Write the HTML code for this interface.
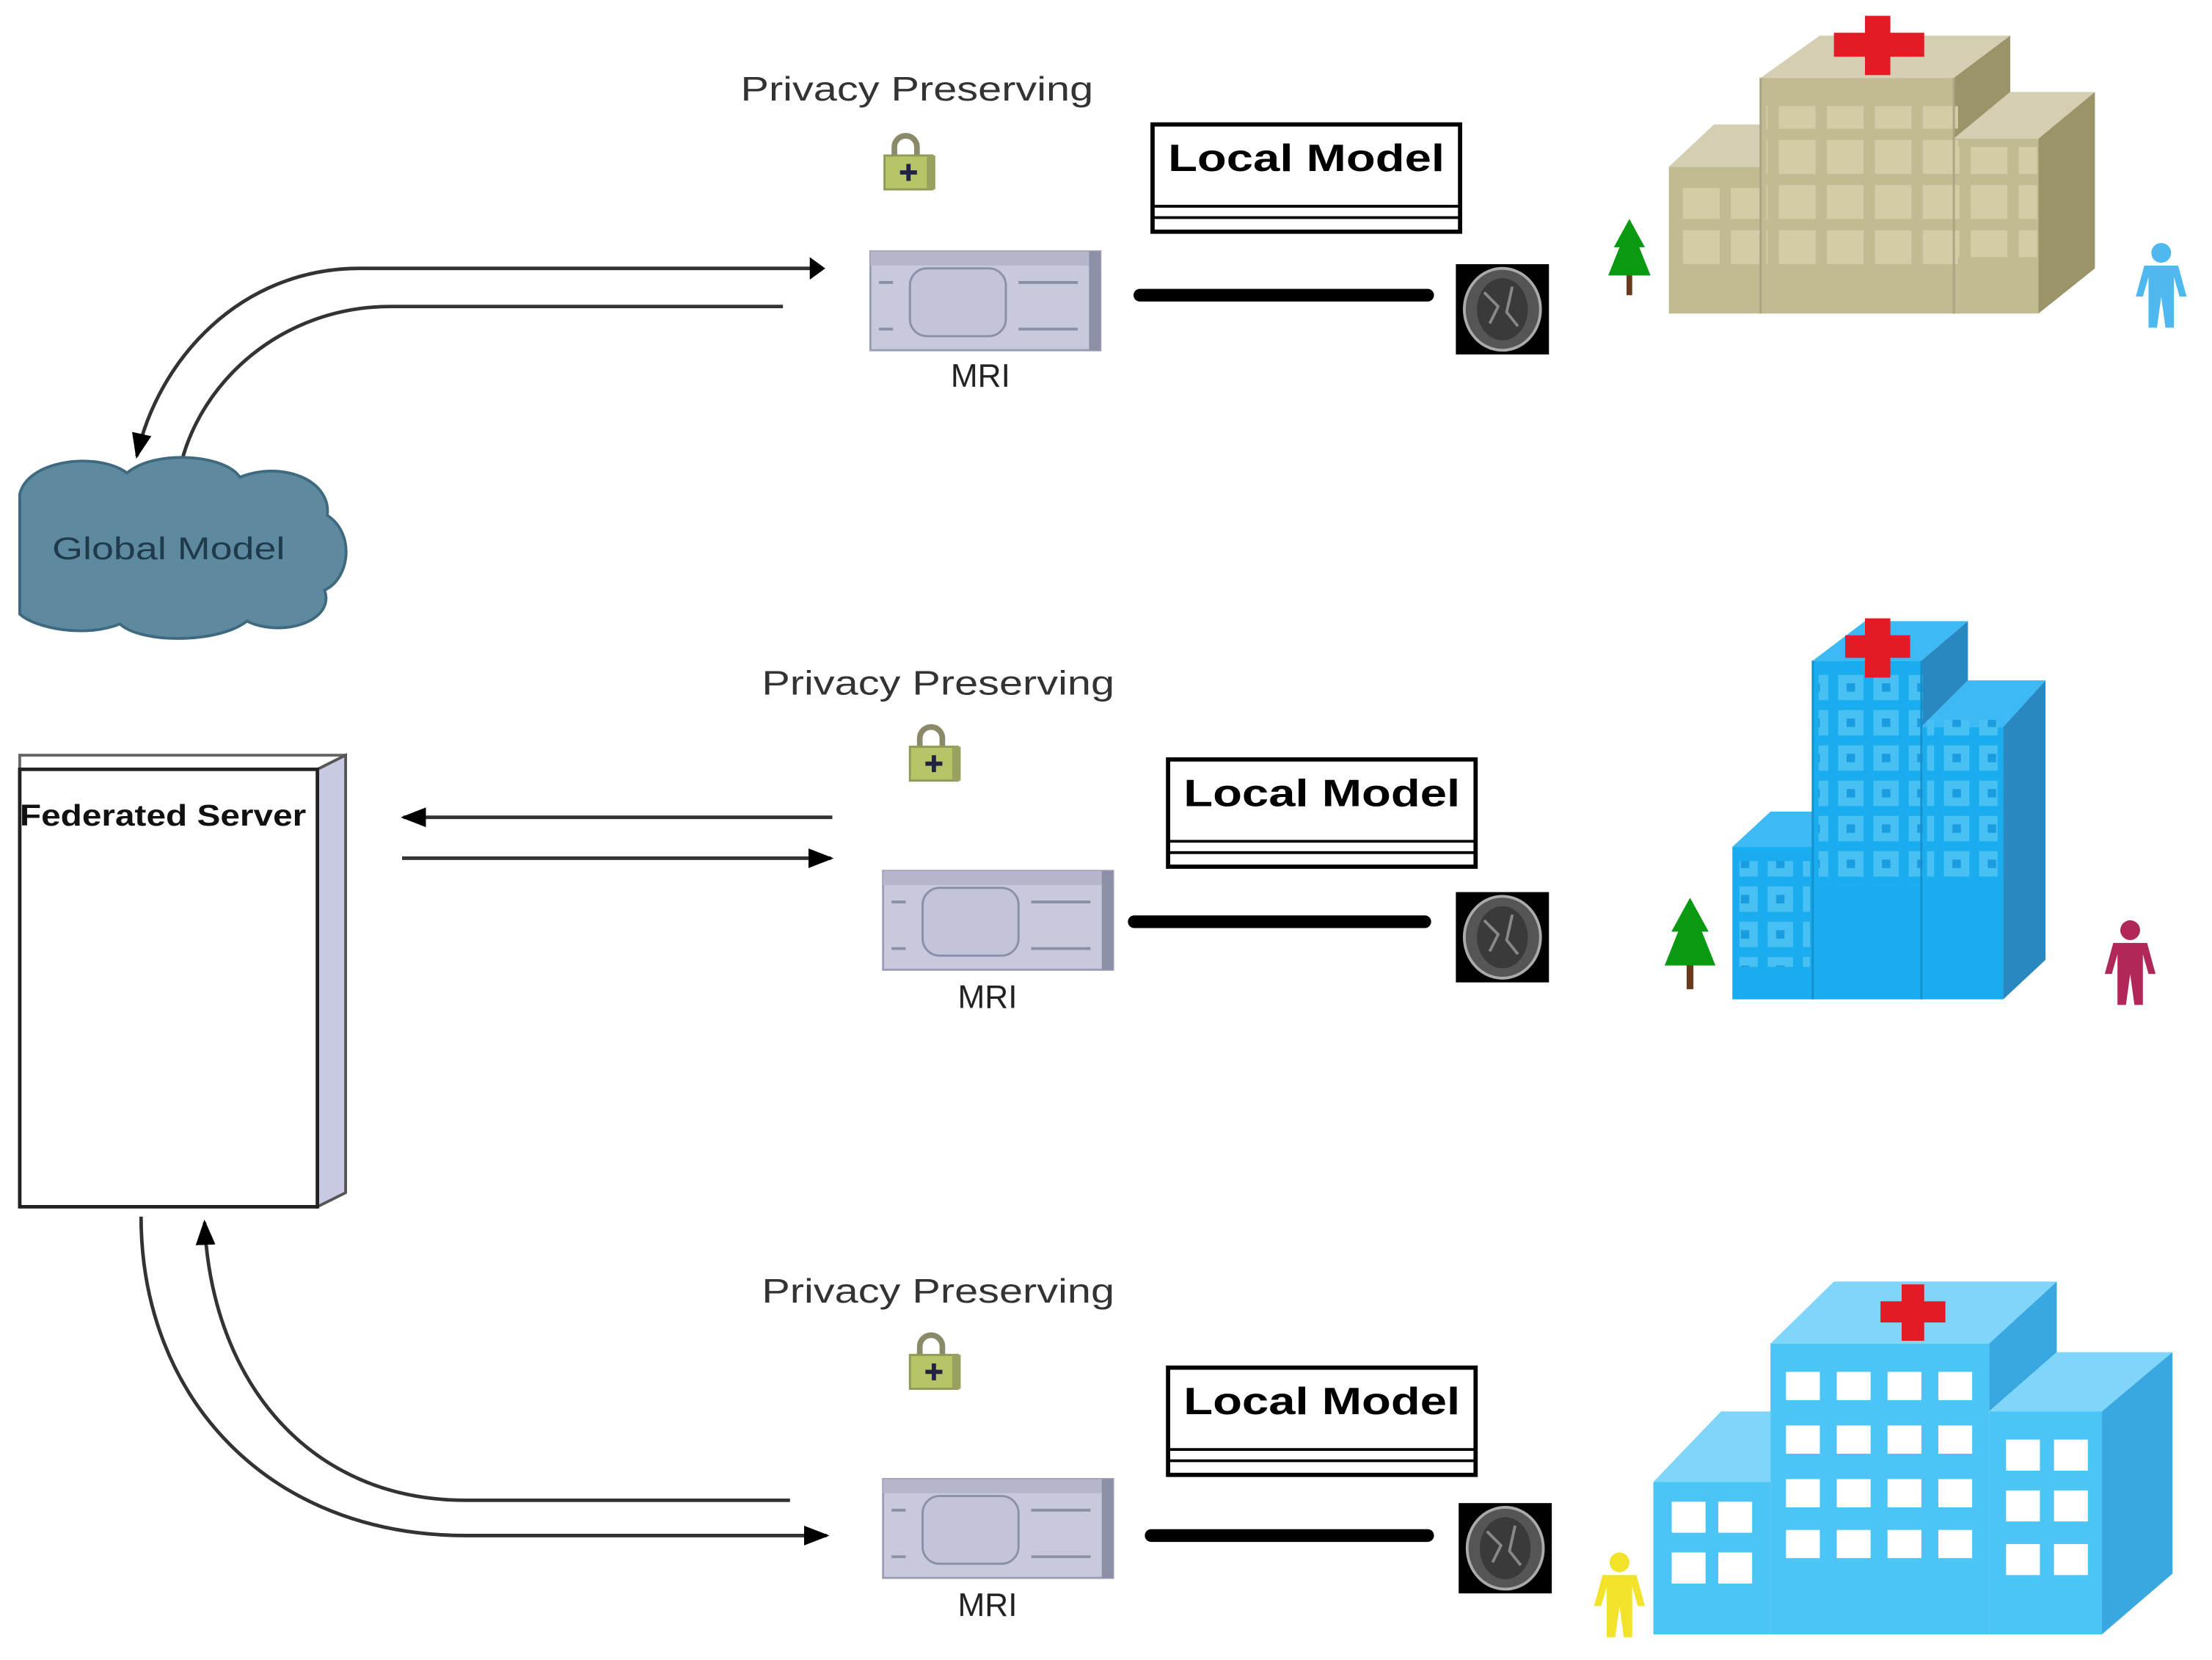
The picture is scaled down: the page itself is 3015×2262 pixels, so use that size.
<!DOCTYPE html>
<html><head><meta charset="utf-8"><style>
html,body{margin:0;padding:0;background:#fff;}
svg{display:block;}
text{font-family:"Liberation Sans",Arial,sans-serif;}
</style></head><body>
<svg width="3015" height="2262" viewBox="0 0 1568 1176" xmlns="http://www.w3.org/2000/svg">
<defs>
<marker id="ah" markerWidth="18" markerHeight="16" refX="16" refY="8" orient="auto" markerUnits="userSpaceOnUse" viewBox="0 0 18 16">
<path d="M0,1 L18,8 L0,15 Z" fill="#000"/></marker>
<g id="lock">
<path d="M7,14 V8 a8,8 0 0 1 16,0 V14" fill="none" stroke="#8a8a6a" stroke-width="4"/>
<rect x="0" y="14" width="34" height="24" fill="#b8c468" stroke="#909a58" stroke-width="1.5"/>
<rect x="30" y="14" width="6" height="24" fill="#9aa060"/>
<path d="M17,20 v12 M11,26 h12" stroke="#222244" stroke-width="3"/>
</g>
<g id="mri">
<rect x="0" y="0" width="163" height="70" fill="#c8c9dd" stroke="#9b9cb5" stroke-width="1.5"/>
<rect x="0" y="0" width="163" height="10" fill="#b5b6cc"/>
<rect x="155" y="0" width="8" height="70" fill="#8d8ea8"/>
<rect x="28" y="12" width="68" height="48" rx="12" fill="#c3c4da" stroke="#8d8ea8" stroke-width="1.5"/>
<path d="M6,22 h10 M6,55 h10 M105,22 h42 M105,55 h42" stroke="#8d8ea8" stroke-width="2"/>
</g>
<g id="brain">
<rect x="0" y="0" width="66" height="64" fill="#000"/>
<ellipse cx="33" cy="32" rx="27" ry="29" fill="#555" stroke="#aaa" stroke-width="2"/>
<ellipse cx="33" cy="32" rx="18" ry="22" fill="#3a3a3a"/>
<path d="M20,20 l10,10 l-6,12 M40,16 l-4,18 l8,10" stroke="#888" stroke-width="2" fill="none"/>
</g>
<g id="lm">
<rect x="0" y="0" width="218" height="76" fill="#fff" stroke="#000" stroke-width="3"/>
<line x1="0" y1="58" x2="218" y2="58" stroke="#000" stroke-width="2"/>
<line x1="0" y1="66" x2="218" y2="66" stroke="#000" stroke-width="2"/>
<text x="109" y="33" text-anchor="middle" font-size="27" font-weight="bold" textLength="196" lengthAdjust="spacingAndGlyphs">Local Model</text>
</g>
<g id="tree">
<rect x="13" y="38" width="4" height="16" fill="#6b3a1a"/>
<path d="M15,0 L26,20 L22,20 L30,40 L0,40 L8,20 L4,20 Z" fill="#0a9a12"/>
</g>
<g id="person">
<circle cx="20" cy="7" r="7"/>
<path d="M8,16 h24 l6,22 h-5 l-4,-14 v36 h-6 l-3,-22 l-3,22 h-6 v-36 l-4,14 h-5 Z"/>
</g>
<pattern id="tanwin" x="0" y="0" width="34" height="32" patternUnits="userSpaceOnUse">
<rect x="3" y="3" width="26" height="24" fill="#d3cca6"/></pattern>
<pattern id="bluewin" x="0" y="0" width="25" height="25" patternUnits="userSpaceOnUse">
<rect x="3" y="3" width="18" height="18" fill="#48c0f4"/><rect x="9" y="9" width="6" height="6" fill="#1a9ce0"/></pattern>
</defs>

<!-- Row 1 -->
<text x="525" y="71" font-size="24" fill="#333" textLength="250" lengthAdjust="spacingAndGlyphs">Privacy Preserving</text>
<use href="#lock" x="627" y="96"/>
<use href="#lm" x="817" y="88"/>
<use href="#mri" x="617" y="178"/>
<text x="695" y="274" text-anchor="middle" font-size="23" fill="#222">MRI</text>
<line x1="808" y1="209" x2="1012" y2="209" stroke="#000" stroke-width="9" stroke-linecap="round"/>
<use href="#brain" x="1032" y="187"/>

<!-- Hospital 1 tan -->
<g>
<polygon points="1183,118 1248,118 1248,88 1215,88" fill="#d4cfb2"/>
<rect x="1183" y="118" width="65" height="104" fill="#c2bb92"/>
<polygon points="1248,55 1385,55 1425,25 1290,25" fill="#d4cfb2"/>
<polygon points="1385,55 1425,25 1425,65 1385,98" fill="#9a9468"/>
<rect x="1248" y="55" width="137" height="167" fill="#c2bb92"/>
<polygon points="1385,98 1445,98 1485,65 1425,65" fill="#d4cfb2"/>
<polygon points="1445,98 1485,65 1485,190 1445,222" fill="#9a9468"/>
<rect x="1385" y="98" width="60" height="124" fill="#c2bb92"/>
<rect x="1252" y="75" width="136" height="112" fill="url(#tanwin)"/>
<rect x="1188" y="133" width="60" height="56" fill="url(#tanwin)"/>
<rect x="1388" y="104" width="56" height="78" fill="url(#tanwin)"/>
<path d="M1248,55 V222 M1385,55 V222" stroke="#aaa482" stroke-width="1.5"/>
<rect x="1322" y="11" width="18" height="42" fill="#e21b24"/>
<rect x="1300" y="23" width="64" height="17" fill="#e21b24"/>
</g>
<use href="#tree" x="1140" y="155"/>
<use href="#person" x="1512" y="172" fill="#4fb8ee"/>

<!-- Arrows top -->
<path d="M583,190 H255 C170,190 112,255 97,323" fill="none" stroke="#333" stroke-width="2.5" marker-end="url(#ah)"/>
<polygon points="574,182 585,190 574,198" fill="#000"/>
<path d="M555,217 H277 C200,217 142,270 128,330" fill="none" stroke="#333" stroke-width="2.5"/>

<!-- Cloud -->
<path d="M14,350 C20,325 70,320 90,335 C110,318 160,322 170,338 C200,326 235,340 232,365 C252,378 248,410 230,418 C238,440 200,452 175,440 C155,456 100,456 85,442 C60,452 25,445 14,435 Z" fill="#5d8a9f" stroke="#3e6a80" stroke-width="2"/>
<text x="37" y="396" font-size="22" fill="#1f3a4a" textLength="165" lengthAdjust="spacingAndGlyphs">Global Model</text>

<!-- Row 2 -->
<text x="540" y="492" font-size="24" fill="#333" textLength="250" lengthAdjust="spacingAndGlyphs">Privacy Preserving</text>
<use href="#lock" x="645" y="515"/>
<use href="#lm" x="828" y="538"/>
<use href="#mri" x="626" y="617"/>
<text x="700" y="714" text-anchor="middle" font-size="23" fill="#222">MRI</text>
<line x1="804" y1="653" x2="1010" y2="653" stroke="#000" stroke-width="9" stroke-linecap="round"/>
<use href="#brain" x="1032" y="632"/>
<line x1="590" y1="579" x2="286" y2="579" stroke="#333" stroke-width="2.5" marker-end="url(#ah)"/>
<line x1="285" y1="608" x2="589" y2="608" stroke="#333" stroke-width="2.5" marker-end="url(#ah)"/>

<!-- Hospital 2 blue -->
<g>
<polygon points="1228,600 1285,600 1285,575 1255,575" fill="#3dbaf5"/>
<rect x="1228" y="600" width="57" height="108" fill="#19adf0"/>
<polygon points="1285,468 1362,468 1395,440 1322,440" fill="#3dbaf5"/>
<polygon points="1362,468 1395,440 1395,482 1362,515" fill="#2a88c0"/>
<rect x="1285" y="468" width="77" height="240" fill="#19adf0"/>
<polygon points="1362,515 1420,515 1450,482 1395,482" fill="#3dbaf5"/>
<polygon points="1420,515 1450,482 1450,680 1420,708" fill="#2a88c0"/>
<rect x="1362" y="515" width="58" height="193" fill="#19adf0"/>
<rect x="1289" y="478" width="74" height="150" fill="url(#bluewin)"/>
<rect x="1366" y="510" width="50" height="112" fill="url(#bluewin)"/>
<rect x="1233" y="610" width="50" height="75" fill="url(#bluewin)"/>
<path d="M1285,468 V708 M1362,468 V708" stroke="#1590cc" stroke-width="1.5"/>
<rect x="1322" y="438" width="18" height="42" fill="#e21b24"/>
<rect x="1308" y="450" width="46" height="16" fill="#e21b24"/>
</g>
<g transform="translate(1180 636) scale(1.2)"><use href="#tree"/></g>
<use href="#person" x="1490" y="652" fill="#b0285a"/>

<!-- Federated server -->
<polygon points="14,535 245,535 225,545 14,545" fill="#fff" stroke="#666" stroke-width="2"/>
<polygon points="225,545 245,535 245,845 225,855" fill="#c8c9e2" stroke="#555" stroke-width="2"/>
<rect x="14" y="545" width="211" height="310" fill="#fff" stroke="#222" stroke-width="2.5"/>
<text x="14" y="585" font-size="21" font-weight="bold" fill="#111" textLength="203" lengthAdjust="spacingAndGlyphs">Federated Server</text>

<!-- Row 3 -->
<text x="540" y="923" font-size="24" fill="#333" textLength="250" lengthAdjust="spacingAndGlyphs">Privacy Preserving</text>
<use href="#lock" x="645" y="946"/>
<use href="#lm" x="828" y="969"/>
<use href="#mri" x="626" y="1048"/>
<text x="700" y="1145" text-anchor="middle" font-size="23" fill="#222">MRI</text>
<line x1="816" y1="1088" x2="1012" y2="1088" stroke="#000" stroke-width="9" stroke-linecap="round"/>
<use href="#brain" x="1034" y="1065"/>
<path d="M100,862 C100,990 190,1088 330,1088 H586" fill="none" stroke="#333" stroke-width="2.5" marker-end="url(#ah)"/>
<path d="M560,1063 H330 C220,1063 150,980 145,866" fill="none" stroke="#333" stroke-width="2.5" marker-end="url(#ah)"/>

<!-- Hospital 3 light blue -->
<g>
<polygon points="1172,1050 1255,1050 1255,1000 1220,1000" fill="#7fd6fa"/>
<rect x="1172" y="1050" width="83" height="108" fill="#4cc4f6"/>
<polygon points="1255,952 1410,952 1458,908 1300,908" fill="#7fd6fa"/>
<polygon points="1410,952 1458,908 1458,958 1410,1000" fill="#3aa8e0"/>
<rect x="1255" y="952" width="155" height="206" fill="#4cc4f6"/>
<polygon points="1410,1000 1490,1000 1540,958 1458,958" fill="#7fd6fa"/>
<polygon points="1490,1000 1540,958 1540,1115 1490,1158" fill="#3aa8e0"/>
<rect x="1410" y="1000" width="80" height="158" fill="#4cc4f6"/>
<g fill="#fff">
<rect x="1266" y="972" width="24" height="20"/><rect x="1302" y="972" width="24" height="20"/><rect x="1338" y="972" width="24" height="20"/><rect x="1374" y="972" width="24" height="20"/>
<rect x="1266" y="1010" width="24" height="20"/><rect x="1302" y="1010" width="24" height="20"/><rect x="1338" y="1010" width="24" height="20"/><rect x="1374" y="1010" width="24" height="20"/>
<rect x="1266" y="1048" width="24" height="20"/><rect x="1302" y="1048" width="24" height="20"/><rect x="1338" y="1048" width="24" height="20"/><rect x="1374" y="1048" width="24" height="20"/>
<rect x="1266" y="1084" width="24" height="20"/><rect x="1302" y="1084" width="24" height="20"/><rect x="1338" y="1084" width="24" height="20"/><rect x="1374" y="1084" width="24" height="20"/>
<rect x="1185" y="1064" width="24" height="22"/><rect x="1218" y="1064" width="24" height="22"/>
<rect x="1185" y="1100" width="24" height="22"/><rect x="1218" y="1100" width="24" height="22"/>
<rect x="1422" y="1020" width="24" height="22"/><rect x="1456" y="1020" width="24" height="22"/>
<rect x="1422" y="1056" width="24" height="22"/><rect x="1456" y="1056" width="24" height="22"/>
<rect x="1422" y="1094" width="24" height="22"/><rect x="1456" y="1094" width="24" height="22"/>
</g>
<rect x="1348" y="910" width="16" height="40" fill="#e21b24"/>
<rect x="1333" y="922" width="46" height="15" fill="#e21b24"/>
</g>
<use href="#person" x="1128" y="1100" fill="#f2e22a"/>
</svg>
</body></html>
